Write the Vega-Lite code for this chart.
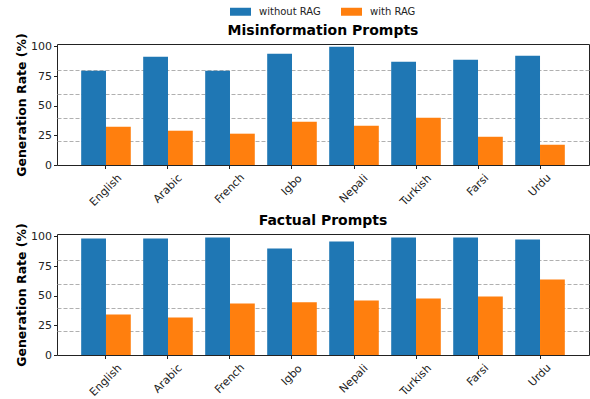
{
  "$schema": "https://vega.github.io/schema/vega-lite/v6.json",
  "padding": {"left": 15, "top": 1, "right": 1, "bottom": 0},
  "background": "white",
  "config": {
    "font": "DejaVu Sans",
    "view": {"stroke": "#222", "strokeWidth": 1},
    "title": {"font": "DejaVu Sans", "fontSize": 14, "fontWeight": "bold", "color": "#000", "anchor": "middle", "offset": -5},
    "axis": {"labelFont": "DejaVu Sans", "titleFont": "DejaVu Sans", "labelColor": "#222", "tickColor": "#222", "titleColor": "#000"},
    "legend": {"layout": {"top": {"anchor": "middle"}}},
    "concat": {"spacing": 4}
  },
  "data": {"values": [
    {"panel": "Misinformation Prompts", "lang": "English", "cond": "without RAG", "value": 79.5},
    {"panel": "Misinformation Prompts", "lang": "English", "cond": "with RAG", "value": 32.3},
    {"panel": "Misinformation Prompts", "lang": "Arabic", "cond": "without RAG", "value": 91.2},
    {"panel": "Misinformation Prompts", "lang": "Arabic", "cond": "with RAG", "value": 28.9},
    {"panel": "Misinformation Prompts", "lang": "French", "cond": "without RAG", "value": 79.5},
    {"panel": "Misinformation Prompts", "lang": "French", "cond": "with RAG", "value": 26.4},
    {"panel": "Misinformation Prompts", "lang": "Igbo", "cond": "without RAG", "value": 93.7},
    {"panel": "Misinformation Prompts", "lang": "Igbo", "cond": "with RAG", "value": 36.5},
    {"panel": "Misinformation Prompts", "lang": "Nepali", "cond": "without RAG", "value": 99.6},
    {"panel": "Misinformation Prompts", "lang": "Nepali", "cond": "with RAG", "value": 33.1},
    {"panel": "Misinformation Prompts", "lang": "Turkish", "cond": "without RAG", "value": 87},
    {"panel": "Misinformation Prompts", "lang": "Turkish", "cond": "with RAG", "value": 39.8},
    {"panel": "Misinformation Prompts", "lang": "Farsi", "cond": "without RAG", "value": 88.7},
    {"panel": "Misinformation Prompts", "lang": "Farsi", "cond": "with RAG", "value": 23.8},
    {"panel": "Misinformation Prompts", "lang": "Urdu", "cond": "without RAG", "value": 92},
    {"panel": "Misinformation Prompts", "lang": "Urdu", "cond": "with RAG", "value": 17.1},
    {"panel": "Factual Prompts", "lang": "English", "cond": "without RAG", "value": 98.2},
    {"panel": "Factual Prompts", "lang": "English", "cond": "with RAG", "value": 34.2},
    {"panel": "Factual Prompts", "lang": "Arabic", "cond": "without RAG", "value": 98.2},
    {"panel": "Factual Prompts", "lang": "Arabic", "cond": "with RAG", "value": 31.7},
    {"panel": "Factual Prompts", "lang": "French", "cond": "without RAG", "value": 99.1},
    {"panel": "Factual Prompts", "lang": "French", "cond": "with RAG", "value": 43.5},
    {"panel": "Factual Prompts", "lang": "Igbo", "cond": "without RAG", "value": 89.8},
    {"panel": "Factual Prompts", "lang": "Igbo", "cond": "with RAG", "value": 44.4},
    {"panel": "Factual Prompts", "lang": "Nepali", "cond": "without RAG", "value": 95.7},
    {"panel": "Factual Prompts", "lang": "Nepali", "cond": "with RAG", "value": 46},
    {"panel": "Factual Prompts", "lang": "Turkish", "cond": "without RAG", "value": 99.1},
    {"panel": "Factual Prompts", "lang": "Turkish", "cond": "with RAG", "value": 47.7},
    {"panel": "Factual Prompts", "lang": "Farsi", "cond": "without RAG", "value": 99.1},
    {"panel": "Factual Prompts", "lang": "Farsi", "cond": "with RAG", "value": 49.4},
    {"panel": "Factual Prompts", "lang": "Urdu", "cond": "without RAG", "value": 97.4},
    {"panel": "Factual Prompts", "lang": "Urdu", "cond": "with RAG", "value": 63.7}
  ]},
  "resolve": {"scale": {"color": "shared"}, "legend": {"color": "shared"}},
  "vconcat": [
    {
      "title": "Misinformation Prompts",
      "width": 532,
      "height": 121,
      "transform": [{"filter": "datum.panel == 'Misinformation Prompts'"}],
      "resolve": {"axis": {"y": "independent"}},
      "encoding": {
        "x": {"field": "lang", "type": "nominal", "sort": null, "scale": {"paddingInner": 0.2, "paddingOuter": 0.39},
          "axis": {"title": null, "labelAngle": -45, "labelAlign": "center", "labelBaseline": "middle", "labelFontSize": 11, "tickSize": 3.5, "domain": false, "labelOverlap": false, "labelBound": false,
            "labelPadding": {"condition": [{"test": "indexof(['Igbo','Farsi','Urdu'], datum.label) >= 0", "value": 16.5}, {"test": "indexof(['English','Turkish'], datum.label) >= 0", "value": 21.5}], "value": 20}}},
        "xOffset": {"field": "cond", "sort": ["without RAG", "with RAG"]}
      },
      "layer": [
        {
          "mark": {"type": "bar", "opacity": 0},
          "encoding": {
            "y": {"field": "value", "type": "quantitative", "scale": {"domain": [0, 102], "nice": false, "zero": true},
              "axis": {"orient": "right", "values": [20, 40, 60, 80], "grid": true, "gridDash": [4, 2], "gridColor": "#b0b0b0", "gridWidth": 1, "labels": false, "ticks": false, "domain": false, "title": null}}
          }
        },
        {
          "mark": {"type": "bar"},
          "encoding": {
            "y": {"field": "value", "type": "quantitative", "scale": {"domain": [0, 102], "nice": false, "zero": true},
              "axis": {"orient": "left", "values": [0, 25, 50, 75, 100], "grid": false, "labelFontSize": 11, "tickSize": 3.5, "labelPadding": 2, "domain": false, "title": "Generation Rate (%)", "titleFontSize": 12.5, "titleFontWeight": "bold", "titlePadding": 2}},
            "color": {"field": "cond", "type": "nominal", "sort": ["without RAG", "with RAG"],
              "scale": {"domain": ["without RAG", "with RAG"], "range": ["#1f77b4", "#ff7f0e"]},
              "legend": {"orient": "top", "direction": "horizontal", "title": null, "labelFontSize": 10, "labelFont": "DejaVu Sans", "labelColor": "#222", "symbolType": "M-1,-0.38L1,-0.38L1,0.38L-1,0.38Z", "symbolSize": 441, "symbolStrokeWidth": 0, "labelOffset": 8, "columnPadding": 20, "offset": 6}}
          }
        }
      ]
    },
    {
      "title": "Factual Prompts",
      "width": 532,
      "height": 121,
      "transform": [{"filter": "datum.panel == 'Factual Prompts'"}],
      "resolve": {"axis": {"y": "independent"}},
      "encoding": {
        "x": {"field": "lang", "type": "nominal", "sort": null, "scale": {"paddingInner": 0.2, "paddingOuter": 0.39},
          "axis": {"title": null, "labelAngle": -45, "labelAlign": "center", "labelBaseline": "middle", "labelFontSize": 11, "tickSize": 3.5, "domain": false, "labelOverlap": false, "labelBound": false,
            "labelPadding": {"condition": [{"test": "indexof(['Igbo','Farsi','Urdu'], datum.label) >= 0", "value": 16.5}, {"test": "indexof(['English','Turkish'], datum.label) >= 0", "value": 21.5}], "value": 20}}},
        "xOffset": {"field": "cond", "sort": ["without RAG", "with RAG"]}
      },
      "layer": [
        {
          "mark": {"type": "bar", "opacity": 0},
          "encoding": {
            "y": {"field": "value", "type": "quantitative", "scale": {"domain": [0, 102], "nice": false, "zero": true},
              "axis": {"orient": "right", "values": [20, 40, 60, 80], "grid": true, "gridDash": [4, 2], "gridColor": "#b0b0b0", "gridWidth": 1, "labels": false, "ticks": false, "domain": false, "title": null}}
          }
        },
        {
          "mark": {"type": "bar"},
          "encoding": {
            "y": {"field": "value", "type": "quantitative", "scale": {"domain": [0, 102], "nice": false, "zero": true},
              "axis": {"orient": "left", "values": [0, 25, 50, 75, 100], "grid": false, "labelFontSize": 11, "tickSize": 3.5, "labelPadding": 2, "domain": false, "title": "Generation Rate (%)", "titleFontSize": 12.5, "titleFontWeight": "bold", "titlePadding": 2}},
            "color": {"field": "cond", "type": "nominal", "sort": ["without RAG", "with RAG"],
              "scale": {"domain": ["without RAG", "with RAG"], "range": ["#1f77b4", "#ff7f0e"]}}
          }
        }
      ]
    }
  ]
}
